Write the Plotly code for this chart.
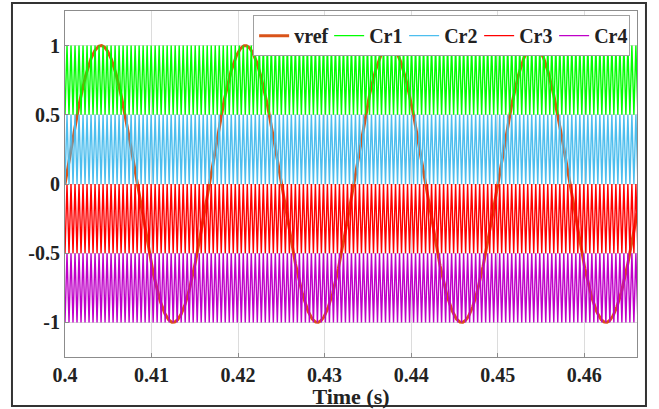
import numpy as np
import plotly.graph_objects as go

# ---- data / parameters ----
t_start = 0.4
t_end = 0.4661
vref_freq = 60.0          # Hz (peaks at ~0.4042, 0.4208, 0.4375, 0.4542)
vref_amp = 1.0
carrier_freq = 2160.0     # Hz (approx. 4.6 px per cycle)
carrier_names = ["Cr1", "Cr2", "Cr3", "Cr4"]
carrier_low = [0.5, 0.0, -0.5, -1.0]
carrier_high = [1.0, 0.5, 0.0, -0.5]
carrier_colors = ["#00FF00", "#4DBEEE", "#FF0000", "#BF00C8"]
vref_color = "#D95319"
x_ticks = [0.4, 0.41, 0.42, 0.43, 0.44, 0.45, 0.46]
x_tick_labels = ["0.4", "0.41", "0.42", "0.43", "0.44", "0.45", "0.46"]
y_ticks = [-1, -0.5, 0, 0.5, 1]
y_tick_labels = ["-1", "-0.5", "0", "0.5", "1"]

fig = go.Figure()

# reference sine (drawn first, carriers overlay it)
t = np.linspace(t_start, t_end, 2000)
v = vref_amp * np.sin(2 * np.pi * vref_freq * t)
fig.add_trace(go.Scatter(x=t, y=v, mode="lines", name="vref",
                         line=dict(color=vref_color, width=3)))

# carriers: triangle waves built from their vertices
n_half = int(np.ceil((t_end - t_start) * carrier_freq * 2)) + 1
t_vert = t_start + np.arange(n_half + 1) / (2 * carrier_freq)
for name, lo, hi, col in zip(carrier_names, carrier_low, carrier_high, carrier_colors):
    vals = np.where(np.arange(n_half + 1) % 2 == 0, lo, hi)
    fig.add_trace(go.Scatter(x=t_vert, y=vals, mode="lines", name=name,
                             line=dict(color=col, width=1.4)))

font_family = "Liberation Serif"
axis_common = dict(
    showgrid=True, gridcolor="#DCDCDC", gridwidth=1,
    showline=True, linecolor="#8C8C8C", linewidth=1, mirror=True,
    ticks="inside", ticklen=4, tickcolor="#8C8C8C",
    zeroline=False, automargin=False,
    tickfont=dict(family=font_family, size=20, color="#222222", weight="bold"),
)

fig.update_layout(
    width=659, height=409,
    margin=dict(l=65, r=22, t=11, b=52),
    paper_bgcolor="white", plot_bgcolor="white",
    xaxis=dict(range=[t_start, t_end], tickvals=x_ticks, ticktext=x_tick_labels,
               title=dict(text="Time (s)", standoff=0,
                          font=dict(family=font_family, size=22, color="#222222", weight="bold")),
               **axis_common),
    yaxis=dict(range=[-1.25, 1.25], tickvals=y_ticks, ticktext=y_tick_labels,
               **axis_common),
    legend=dict(orientation="h", x=0.988, xanchor="right", y=0.988, yanchor="top",
                bgcolor="white", bordercolor="#A0A0A0", borderwidth=1,
                itemwidth=30, tracegroupgap=0, entrywidth=30, entrywidthmode="pixels",
                font=dict(family=font_family, size=20, color="#222222", weight="bold")),
    showlegend=True,
    shapes=[dict(type="rect", xref="paper", yref="paper",
                 x0=-0.0927, x1=1.0157, y0=-0.1416, y1=1.023,
                 line=dict(color="#333333", width=2), fillcolor="rgba(0,0,0,0)",
                 layer="above")],
)

fig.write_html("out.html", config={"displayModeBar": False},
               post_script="document.body.style.margin='0';")
